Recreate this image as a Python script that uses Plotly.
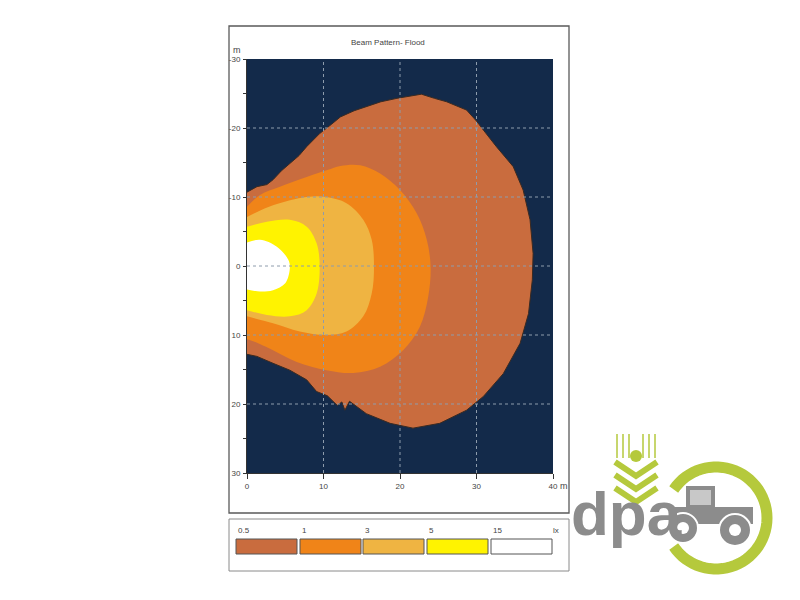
import math
import plotly.graph_objects as go

# ---------------- data (metres / lux) ----------------
lux_levels = ["0.5", "1", "3", "5", "15"]
lux_unit = "lx"
x_ticks = [0, 10, 20, 30, 40]
y_ticks = [-30, -20, -10, 0, 10, 20, 30]
title_text = "Beam Pattern- Flood"

x05 = [0, 1.3, 2.6, 3.4, 4.5, 5.6, 6.8, 7.8, 9.5, 11.0, 12.2, 14.0, 15.6, 17.5, 19.6, 21.5,
       22.8, 24.5, 26.1, 28.7, 30.0, 30.9, 32.6, 34.8, 36.1, 37.0, 37.4, 37.3, 36.8, 35.7,
       33.5, 30.9, 28.7, 25.2, 21.7, 18.7, 15.6, 13.4, 12.8, 12.4, 11.8, 10.5, 9.1, 7.8,
       5.6, 3.4, 1.3, 0]
y05 = [-10.7, -11.5, -11.8, -12.5, -13.8, -14.9, -16.0, -17.3, -19.2, -20.5, -21.6, -22.5,
       -23.1, -23.8, -24.3, -24.6, -24.9, -24.3, -23.8, -22.6, -21.0, -19.7, -17.3, -14.4,
       -11.0, -6.7, -1.8, 2.0, 6.9, 11.2, 15.6, 18.9, 20.9, 22.8, 23.5, 22.8, 21.4, 19.6,
       20.9, 19.7, 20.2, 18.8, 18.2, 16.5, 15.1, 14.1, 13.1, 12.8]

x1 = [0, 1.7, 4.3, 7.8, 10.5, 12.2, 14.8, 17.4, 20.0, 22.2, 23.5, 24.0, 23.7, 22.6, 20.4,
      17.4, 13.9, 10.4, 6.5, 3.4, 0.8, 0]
y1 = [-8.6, -10.3, -11.5, -12.9, -13.9, -14.5, -14.6, -13.4, -11.0, -7.6, -3.8, 0.1, 4.4,
      8.8, 12.2, 14.6, 15.5, 15.1, 13.9, 12.2, 10.9, 10.6]

x3 = [0, 3.4, 7.8, 10.4, 13.0, 15.2, 16.3, 16.6, 16.3, 15.2, 13.0, 10.4, 6.9, 3.4, 0]
y3 = [-7.1, -8.8, -10.0, -10.0, -9.1, -6.7, -3.8, 0.1, 4.0, 7.3, 9.5, 10.0, 9.5, 8.3, 7.3]

x5 = [0, 2.6, 5.6, 7.8, 9.1, 9.5, 9.1, 7.8, 5.6, 2.6, 0]
y5 = [-5.7, -6.4, -6.7, -5.7, -3.3, 0.1, 4.0, 6.4, 7.3, 7.1, 6.4]

x15 = [0, 1.7, 3.9, 5.4, 5.6, 5.0, 3.4, 1.7, 0]
y15 = [-3.4, -3.8, -2.8, -0.9, 0.3, 2.5, 3.5, 3.7, 3.4]

# ---------------- style ----------------
fill_colors = ["#C96C3E", "#F08418", "#EFB442", "#FFF300", "#FFFFFF"]
navy = "#132A4A"
grid_col = "#8E9CAC"
font_fam = "Liberation Sans, Arial, sans-serif"

W, H = 800, 600
OFF = 8  # page body margin
L, R, T, B = 247, 553, 59, 473


def px(x):
    return (x - L) / (R - L)


def py(y):
    return (B - y) / (B - T)


def num_label(v):
    return ("-" + str(-v)) if v < 0 else str(v)


fig = go.Figure()
regions = [(x05, y05, "linear"), (x1, y1, "spline"), (x3, y3, "spline"),
           (x5, y5, "spline"), (x15, y15, "spline")]
for i, (xs, ys, shp) in enumerate(regions):
    fig.add_trace(go.Scatter(
        x=xs, y=ys, mode="lines", fill="toself", fillcolor=fill_colors[i],
        line=dict(color="#3A2A22" if i == 0 else fill_colors[i], width=1 if i == 0 else 0,
                  shape=shp),
        hoverinfo="skip", showlegend=False))

shapes = []
# gridlines on top
for v in x_ticks[1:-1]:
    shapes.append(dict(type="line", xref="x", yref="paper", x0=v, x1=v, y0=0, y1=1,
                       line=dict(color=grid_col, width=1, dash="dot"), layer="above"))
for v in y_ticks[1:-1]:
    shapes.append(dict(type="line", xref="paper", yref="y", x0=0, x1=1, y0=v, y1=v,
                       line=dict(color=grid_col, width=1, dash="dot"), layer="above"))

# frames
shapes.append(dict(type="rect", xref="paper", yref="paper", x0=px(229), x1=px(569),
                   y0=py(513), y1=py(26), line=dict(color="#5A5A5A", width=1.3),
                   layer="below"))
shapes.append(dict(type="rect", xref="paper", yref="paper", x0=px(229), x1=px(569),
                   y0=py(571), y1=py(519), line=dict(color="#8A8A8A", width=1)))

annotations = []
# legend swatches
sw_x = [236, 300, 363, 427, 491]
sw_w = 61
for i, lab in enumerate(lux_levels):
    shapes.append(dict(type="rect", xref="paper", yref="paper", x0=px(sw_x[i]),
                       x1=px(sw_x[i] + sw_w), y0=py(554), y1=py(539),
                       fillcolor=fill_colors[i], line=dict(color="#555555", width=1)))
    annotations.append(dict(xref="paper", yref="paper", x=px(sw_x[i]), y=py(537), text=lab,
                            showarrow=False, xanchor="left", yanchor="bottom",
                            font=dict(size=8, color="#444444", family=font_fam)))
annotations.append(dict(xref="paper", yref="paper", x=px(551), y=py(537), text=lux_unit,
                        showarrow=False, xanchor="left", yanchor="bottom",
                        font=dict(size=8, color="#444444", family=font_fam)))

# axis unit labels and title
annotations.append(dict(xref="paper", yref="paper", x=px(237), y=py(50), text="m",
                        showarrow=False, xanchor="center", yanchor="middle",
                        font=dict(size=9, color="#444444", family=font_fam)))
annotations.append(dict(xref="paper", yref="paper", x=px(564), y=py(486), text="m",
                        showarrow=False, xanchor="center", yanchor="middle",
                        font=dict(size=9, color="#444444", family=font_fam)))
annotations.append(dict(xref="paper", yref="paper", x=px(388), y=py(42), text=title_text,
                        showarrow=False, xanchor="center", yanchor="middle",
                        font=dict(size=8, color="#444444", family=font_fam)))

# ---------------- logo (decoration) ----------------
green = "#B5C93C"
grey = "#8C8C8C"
cx, cy, rr = 716, 518, 51
pts = []
n = 60
a0, a1 = math.radians(146), math.radians(146 - 292)
for k in range(n + 1):
    a = a0 + (a1 - a0) * k / n
    pts.append((px(cx + rr * math.cos(a)), py(cy - rr * math.sin(a))))
path = "M " + " L ".join(f"{a:.5f},{b:.5f}" for a, b in pts)
shapes.append(dict(type="path", xref="paper", yref="paper", path=path,
                   line=dict(color=green, width=11)))
# wheat
for xx in [617, 623, 629, 643, 649, 655]:
    shapes.append(dict(type="line", xref="paper", yref="paper", x0=px(xx), x1=px(xx),
                       y0=py(434), y1=py(458), line=dict(color=green, width=1.5)))
shapes.append(dict(type="circle", xref="paper", yref="paper", x0=px(630), x1=px(642),
                   y0=py(462), y1=py(450), fillcolor=green, line=dict(width=0)))
for dy in [0, 13, 26]:
    shapes.append(dict(type="path", xref="paper", yref="paper",
                       path=f"M {px(615)},{py(462+dy)} L {px(636)},{py(476+dy)} L {px(657)},{py(462+dy)}",
                       line=dict(color=green, width=6)))
# tractor
shapes.append(dict(type="rect", xref="paper", yref="paper", x0=px(671), x1=px(753),
                   y0=py(524), y1=py(507), fillcolor=grey, line=dict(width=0)))
shapes.append(dict(type="rect", xref="paper", yref="paper", x0=px(686), x1=px(715),
                   y0=py(508), y1=py(486), fillcolor=grey, line=dict(width=0)))
shapes.append(dict(type="rect", xref="paper", yref="paper", x0=px(690), x1=px(711),
                   y0=py(505), y1=py(490), fillcolor="#C8C8C8", line=dict(width=0)))
for (wx, wy, wr) in [(683, 528, 15), (735, 530, 16)]:
    shapes.append(dict(type="circle", xref="paper", yref="paper", x0=px(wx - wr),
                       x1=px(wx + wr), y0=py(wy + wr), y1=py(wy - wr), fillcolor=grey,
                       line=dict(color="white", width=2)))
    shapes.append(dict(type="circle", xref="paper", yref="paper", x0=px(wx - 6),
                       x1=px(wx + 6), y0=py(wy + 6), y1=py(wy - 6), fillcolor="white",
                       line=dict(width=0)))
annotations.append(dict(xref="paper", yref="paper", x=px(569), y=py(550), text="<b>dpa</b>",
                        showarrow=False, xanchor="left", yanchor="bottom",
                        font=dict(size=62, color=grey, family="Liberation Sans, Arial")))

fig.update_layout(
    width=W, height=H,
    margin=dict(l=L - OFF, r=W - R + OFF, t=T - OFF, b=H - B + OFF, pad=0),
    paper_bgcolor="white", plot_bgcolor=navy,
    showlegend=False,
    shapes=shapes, annotations=annotations,
    xaxis=dict(range=[0, 40], tickvals=x_ticks, ticktext=[num_label(v) for v in x_ticks],
               ticks="outside", ticklen=5, tickcolor="#333333", showgrid=False,
               zeroline=False, showline=True, linecolor="#333333", linewidth=1,
               tickfont=dict(size=8, color="#444444", family=font_fam), fixedrange=True),
    yaxis=dict(range=[30, -30], tickvals=y_ticks, ticktext=[num_label(v) for v in y_ticks],
               ticks="outside", ticklen=3, tickcolor="#333333", showgrid=False,
               zeroline=False, showline=True, linecolor="#333333", linewidth=1,
               ticklabelstandoff=1,
               minor=dict(dtick=5, tick0=0, ticks="outside", ticklen=3, tickcolor="#333333",
                          showgrid=False),
               tickfont=dict(size=8, color="#444444", family=font_fam), fixedrange=True),
)

fig.write_html("out.html")
